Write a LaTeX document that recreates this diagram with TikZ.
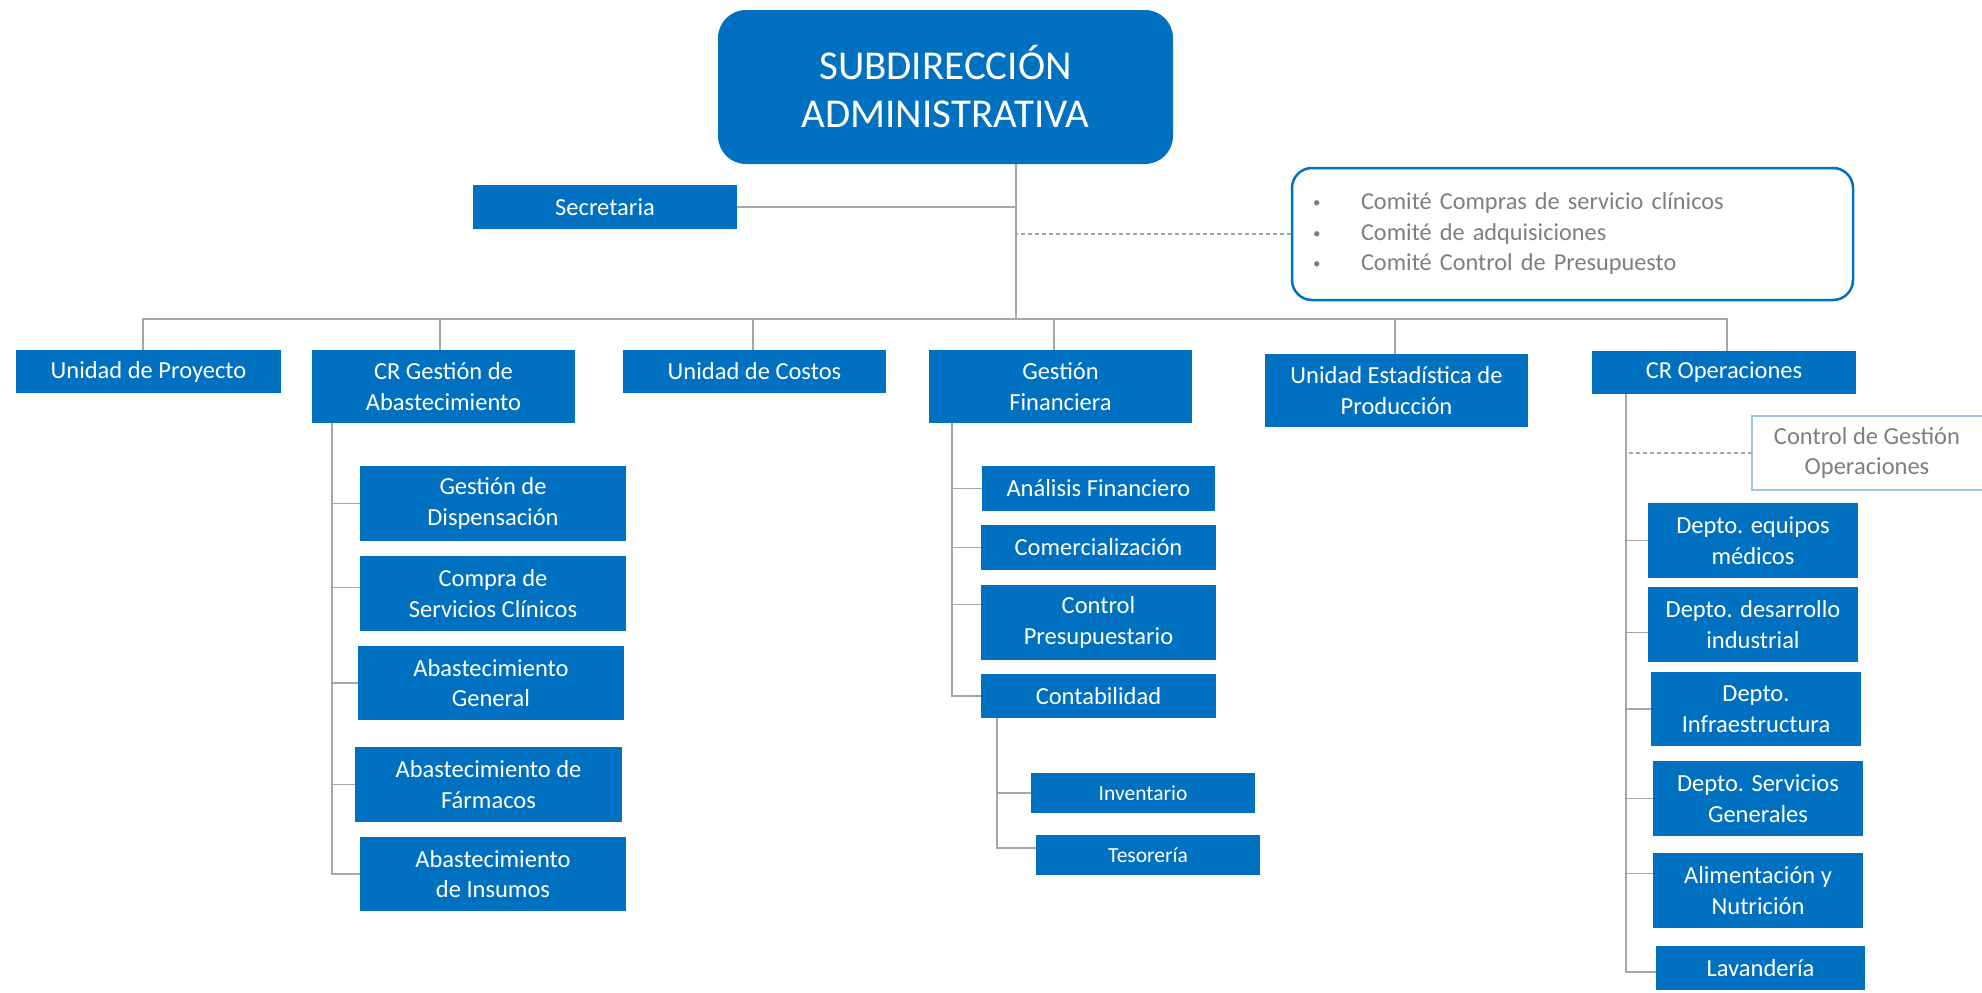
\documentclass[tikz,border=0pt]{standalone}
\usepackage{fontspec}
\setmainfont{Carlito}
\definecolor{cblue}{HTML}{0070C0}
\definecolor{lgrey}{HTML}{A6A6A6}
\definecolor{tgrey}{HTML}{7F7F7F}
\definecolor{lblue}{HTML}{9DC3E6}
\begin{document}
\begin{tikzpicture}[x=1pt,y=-1pt,
  orgbox/.style={fill=cblue,text=white,inner sep=0pt,align=center,
    font=\fontsize{24.5}{30.5}\selectfont},
  smallbox/.style={orgbox,font=\fontsize{21.5}{25}\selectfont},
  conn/.style={draw=lgrey,line width=1.5pt},
  dashconn/.style={draw=lgrey,line width=1.2pt,dash pattern=on 4pt off 3pt}]
\useasboundingbox (0,0) rectangle (1982,993);

% top
\node[orgbox,rounded corners=28pt,minimum width=455pt,minimum height=154pt,
  font=\fontsize{41}{48}\selectfont] (title) at (945.5,87) {SUBDIRECCIÓN\\ADMINISTRATIVA};
\coordinate (trunk) at (1016,164);
\coordinate (bus) at (1016,319);
\draw[conn] (trunk) -- (bus);

\node[orgbox,minimum width=264pt,minimum height=44pt] (sec) at (605,207) {Secretaria};
\draw[conn] (sec.east) -- (sec.east -| trunk);

\node[draw=cblue,line width=2.5pt,rounded corners=20pt,fill=white,
  minimum width=561pt,minimum height=132pt,inner xsep=21pt,inner ysep=0pt,
  text width=519pt,align=left,text=tgrey,font=\fontsize{24.3}{30.5}\selectfont] (comite) at (1572.5,234)
  {\makebox[48pt][l]{\raisebox{2pt}{\fontsize{15}{15}\selectfont •}}Comité Compras de servicio clínicos\\
   \makebox[48pt][l]{\raisebox{2pt}{\fontsize{15}{15}\selectfont •}}Comité de adquisiciones\\
   \makebox[48pt][l]{\raisebox{2pt}{\fontsize{15}{15}\selectfont •}}Comité Control de Presupuesto};
\draw[dashconn] (comite.west) -- (comite.west -| trunk);

% level 1
\node[orgbox,minimum width=265pt,minimum height=43pt] (up) at (148.5,371.5) {Unidad de Proyecto};
\node[orgbox,minimum width=263pt,minimum height=73pt] (crga) at (443.5,386.5) {CR Gestión de\\Abastecimiento};
\node[orgbox,minimum width=263pt,minimum height=43pt] (uc) at (754.5,371.5) {Unidad de Costos};
\node[orgbox,minimum width=263pt,minimum height=73pt] (gf) at (1060.5,386.5) {Gestión\\Financiera};
\node[orgbox,minimum width=263pt,minimum height=73pt] (ue) at (1396.5,390.5) {Unidad Estadística de\\Producción};
\node[orgbox,minimum width=264pt,minimum height=43pt] (cro) at (1724,372.5) {CR Operaciones};

\draw[conn] ([xshift=-5.5pt]up.north) |- (bus) -| ([xshift=3pt]cro.north);
\draw[conn] (bus) -| ([xshift=-3.5pt]crga.north);
\draw[conn] (bus) -| ([xshift=-1.5pt]uc.north);
\draw[conn] (bus) -| ([xshift=-6.5pt]gf.north);
\draw[conn] (bus) -| ([xshift=-1.5pt]ue.north);

% CR Gestion de Abastecimiento children
\coordinate (ca) at (332,423);
\node[orgbox,minimum width=266pt,minimum height=75pt] (gd) at (493,503.5) {Gestión de\\Dispensación};
\node[orgbox,minimum width=266pt,minimum height=75pt] (cs) at (493,593.5) {Compra de\\Servicios Clínicos};
\node[orgbox,minimum width=266pt,minimum height=74pt] (ag) at (491,683) {Abastecimiento\\General};
\node[orgbox,minimum width=267pt,minimum height=75pt] (af) at (488.5,784.5) {Abastecimiento de\\Fármacos};
\node[orgbox,minimum width=266pt,minimum height=74pt] (ai) at (493,874) {Abastecimiento\\de Insumos};
\draw[conn] (ca) |- (gd.west);
\draw[conn] (ca) |- ([yshift=6pt]cs.west);
\draw[conn] (ca) |- (ag.west);
\draw[conn] (ca) |- (af.west);
\draw[conn] (ca) |- (ai.west);

% Gestion Financiera children
\coordinate (cg) at (952,423);
\node[orgbox,minimum width=233pt,minimum height=45pt] (afin) at (1098.5,488.5) {Análisis Financiero};
\node[orgbox,minimum width=235pt,minimum height=45pt] (com) at (1098.5,547.5) {Comercialización};
\node[orgbox,minimum width=235pt,minimum height=75pt] (cp) at (1098.5,622.5) {Control\\Presupuestario};
\node[orgbox,minimum width=235pt,minimum height=44pt] (cont) at (1098.5,696) {Contabilidad};
\draw[conn] (cg) |- (afin.west);
\draw[conn] (cg) |- (com.west);
\draw[conn] (cg) |- ([yshift=18pt]cp.west);
\draw[conn] (cg) |- (cont.west);

\coordinate (cc) at (997,718);
\node[smallbox,minimum width=224pt,minimum height=40pt] (inv) at (1143,793) {Inventario};
\node[smallbox,minimum width=224pt,minimum height=40pt] (tes) at (1148,855) {Tesorería};
\draw[conn] (cc) |- (inv.west);
\draw[conn] (cc) |- ([yshift=7pt]tes.west);

% CR Operaciones children
\coordinate (co) at (1626,394);
\node[text=tgrey,inner sep=0pt,minimum width=230pt,minimum height=74pt,align=center,
  font=\fontsize{24.5}{30}\selectfont] (ctrl) at (1867,453) {Control de Gestión\\Operaciones};
\draw[draw=lblue,line width=1.8pt] ([xshift=12pt]ctrl.north east) -- (ctrl.north west) -- (ctrl.south west) -- ([xshift=12pt]ctrl.south east);
\draw[dashconn] (ctrl.west) -- (ctrl.west -| co);

\node[orgbox,minimum width=210pt,minimum height=75pt] (de) at (1753,540.5) {Depto. equipos\\médicos};
\node[orgbox,minimum width=210pt,minimum height=75pt] (dd) at (1753,624.5) {Depto. desarrollo\\industrial};
\node[orgbox,minimum width=210pt,minimum height=74pt] (di) at (1756,709) {Depto.\\Infraestructura};
\node[orgbox,minimum width=210pt,minimum height=75pt] (ds) at (1758,798.5) {Depto. Servicios\\Generales};
\node[orgbox,minimum width=210pt,minimum height=75pt] (an) at (1758,890.5) {Alimentación y\\Nutrición};
\node[orgbox,minimum width=209pt,minimum height=44pt] (lav) at (1760.5,968) {Lavandería};
\draw[conn] (co) |- (de.west);
\draw[conn] (co) |- ([yshift=-8pt]dd.west);
\draw[conn] (co) |- (di.west);
\draw[conn] (co) |- (ds.west);
\draw[conn] (co) |- ([yshift=17pt]an.west);
\draw[conn] (co) |- ([yshift=-4pt]lav.west);
\end{tikzpicture}
\end{document}
